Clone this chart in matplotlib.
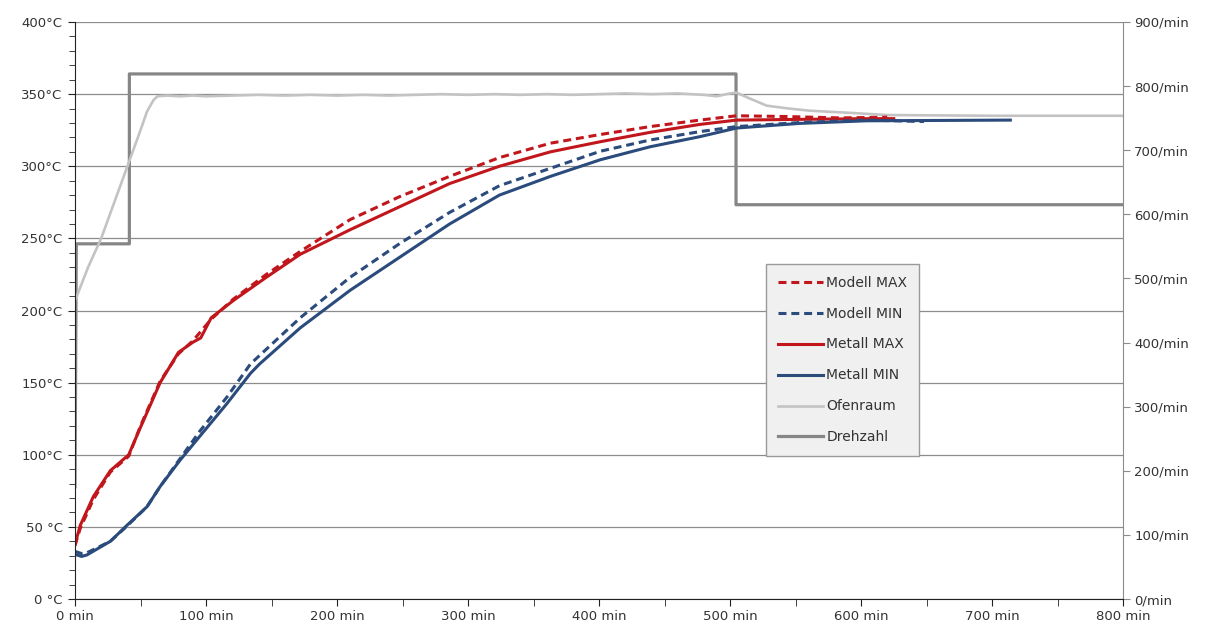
"""
Ofen-Aufheizkurve: Modell vs. Metall, Ofenraum und Drehzahl.
"""
import matplotlib
matplotlib.use('Agg')
import matplotlib.pyplot as plt
from matplotlib.ticker import MultipleLocator, FixedLocator

# Metall MAX (gemessen)
t_metall_max = [0, 4, 14, 27, 41, 50, 65, 79, 90, 96, 104, 121, 146, 172, 210, 248, 286,
                324, 363, 401, 439, 477, 505, 553, 604, 625]
metall_max = [38, 51, 71, 89, 100, 119, 150, 171, 178, 181, 195, 207, 223, 239, 256, 272, 288,
              300, 310, 317, 323.5, 329, 332, 332.5, 333, 333]

# Modell MAX
t_modell_max = [0, 4, 14, 27, 41, 50, 65, 79, 90, 104, 121, 146, 172, 210, 248, 286, 324,
                363, 401, 439, 477, 505, 541, 584, 620]
modell_max = [37, 49, 69, 88, 99, 120, 151, 170, 179, 194, 208, 225, 241, 263, 279, 293, 306,
              316, 322, 327.5, 332, 335, 334.5, 333.5, 334]

# Metall MIN (gemessen)
t_metall_min = [0, 5, 9, 27, 39, 55, 65, 80, 95, 116, 134, 141, 172, 210, 248, 286, 324,
                363, 401, 439, 477, 505, 553, 604, 714]
metall_min = [31, 29.5, 30.5, 40, 50.5, 64, 78, 96, 112.5, 135.5, 156.5, 163, 188, 214, 237, 260, 280,
              293, 304.5, 313.5, 320.5, 326.5, 329.7, 331.5, 332]

# Modell MIN
t_modell_min = [0, 5, 9, 27, 39, 55, 65, 80, 95, 116, 134, 172, 210, 248, 286, 324,
                363, 401, 439, 477, 505, 553, 604, 648]
modell_min = [33, 31.5, 32, 40, 50, 64, 78, 97, 116, 140, 163, 195, 223, 246.5, 268, 286.5,
              298.6, 310.4, 318.2, 324, 327.5, 330.3, 332, 331]

# Ofenraum
t_ofen = [0, 1, 10, 20, 30, 40, 50, 55, 60, 63, 70, 80, 90, 100, 120, 140, 160, 180, 200,
          220, 240, 260, 280, 300, 320, 340, 360, 380, 400, 420, 440, 460, 480, 490, 500,
          505, 515, 528, 545, 561, 592, 620, 700, 800]
ofenraum = [207, 209, 230, 250, 275, 300, 325, 338, 346, 348.5, 349, 348.5, 349, 348.5, 349, 349.5,
            349, 349.5, 349, 349.5, 349, 349.5, 350, 349.5, 350, 349.5, 350, 349.5, 350, 350.5,
            350, 350.5, 349.5, 348.5, 350.5,
            351, 347, 342, 340, 338.5, 337, 335.5, 335, 335]

# Drehzahl (rechte Achse, 1/min)
t_drehzahl = [0, 1, 41.5, 41.5, 504.6, 504.6, 800]
drehzahl = [175, 554, 554, 819, 819, 615, 615]

x_ticks = list(range(0, 801, 100))
y_ticks = list(range(0, 401, 50))
y2_ticks = list(range(0, 901, 100))

red = '#c0161c'
blue = '#2a4b7c'
light_grey = '#c3c3c3'
dark_grey = '#868686'
text_col = '#333333'


def y_label(v):
    return '%d °C' % v if v < 100 else '%d°C' % v


def main():
    plt.rcParams['font.family'] = ['DejaVu Sans']
    fig = plt.figure(figsize=(12.11, 6.31), dpi=100)
    ax = fig.add_axes([75 / 1211, 1 - 599 / 631, 1048 / 1211, 577 / 631])
    ax2 = ax.twinx()

    ax.set_xlim(0, 800)
    ax.set_ylim(0, 400)
    ax2.set_ylim(0, 900)

    ax.yaxis.set_major_locator(FixedLocator(y_ticks))
    ax.yaxis.set_minor_locator(MultipleLocator(10))
    ax.xaxis.set_major_locator(FixedLocator(x_ticks))
    ax.xaxis.set_minor_locator(MultipleLocator(50))
    ax.set_yticklabels([y_label(v) for v in y_ticks])
    ax.set_xticklabels(['%d min' % v for v in x_ticks])
    ax2.yaxis.set_major_locator(FixedLocator(y2_ticks))
    ax2.set_yticklabels(['%d/min' % v for v in y2_ticks])

    ax.grid(axis='y', color='#8c8c8c', linewidth=0.9)
    ax.set_axisbelow(True)

    ax.spines['top'].set_visible(False)
    ax2.spines['top'].set_visible(False)
    ax2.spines['left'].set_visible(False)
    ax2.spines['bottom'].set_visible(False)
    ax.spines['right'].set_visible(False)
    ax.spines['left'].set_color('#222222')
    ax.spines['bottom'].set_color('#222222')
    ax2.spines['right'].set_color('#8c8c8c')

    ax.tick_params(axis='both', which='both', direction='out', colors='#222222',
                   labelcolor=text_col, labelsize=9.5)
    ax.tick_params(axis='y', which='major', length=5, pad=4)
    ax.tick_params(axis='y', which='minor', length=4)
    ax.tick_params(axis='x', which='both', length=5, pad=3)
    ax2.tick_params(axis='y', which='major', direction='out', length=5, colors='#8c8c8c',
                    labelcolor=text_col, labelsize=9.5, pad=3)

    # Plots
    l_ofen, = ax.plot(t_ofen, ofenraum, color=light_grey, linewidth=1.9)
    l_dreh, = ax2.plot(t_drehzahl, drehzahl, color=dark_grey, linewidth=2.3)
    l_mmax, = ax.plot(t_metall_max, metall_max, color=red, linewidth=2.2)
    l_mmin, = ax.plot(t_metall_min, metall_min, color=blue, linewidth=2.2)
    l_modmax, = ax.plot(t_modell_max, modell_max, color=red, linewidth=2.2, dashes=(2.6, 1.6))
    l_modmin, = ax.plot(t_modell_min, modell_min, color=blue, linewidth=2.2, dashes=(2.6, 1.6))

    ax.set_zorder(ax2.get_zorder() + 1)
    ax.patch.set_visible(False)

    leg = ax.legend([l_modmax, l_modmin, l_mmax, l_mmin, l_ofen, l_dreh],
                    ['Modell MAX', 'Modell MIN', 'Metall MAX', 'Metall MIN', 'Ofenraum', 'Drehzahl'],
                    loc='upper left', bbox_to_anchor=(0.6525, 0.593), fontsize=10,
                    handlelength=3.3, handletextpad=0.2, labelspacing=1.22,
                    borderpad=0.85, fancybox=False, framealpha=1, facecolor='#f0f0f0',
                    edgecolor='#9a9a9a')
    leg.get_frame().set_linewidth(1.0)
    for txt in leg.get_texts():
        txt.set_color(text_col)

    fig.savefig('out.png', dpi=100, facecolor='w')


if __name__ == "__main__":
    main()
